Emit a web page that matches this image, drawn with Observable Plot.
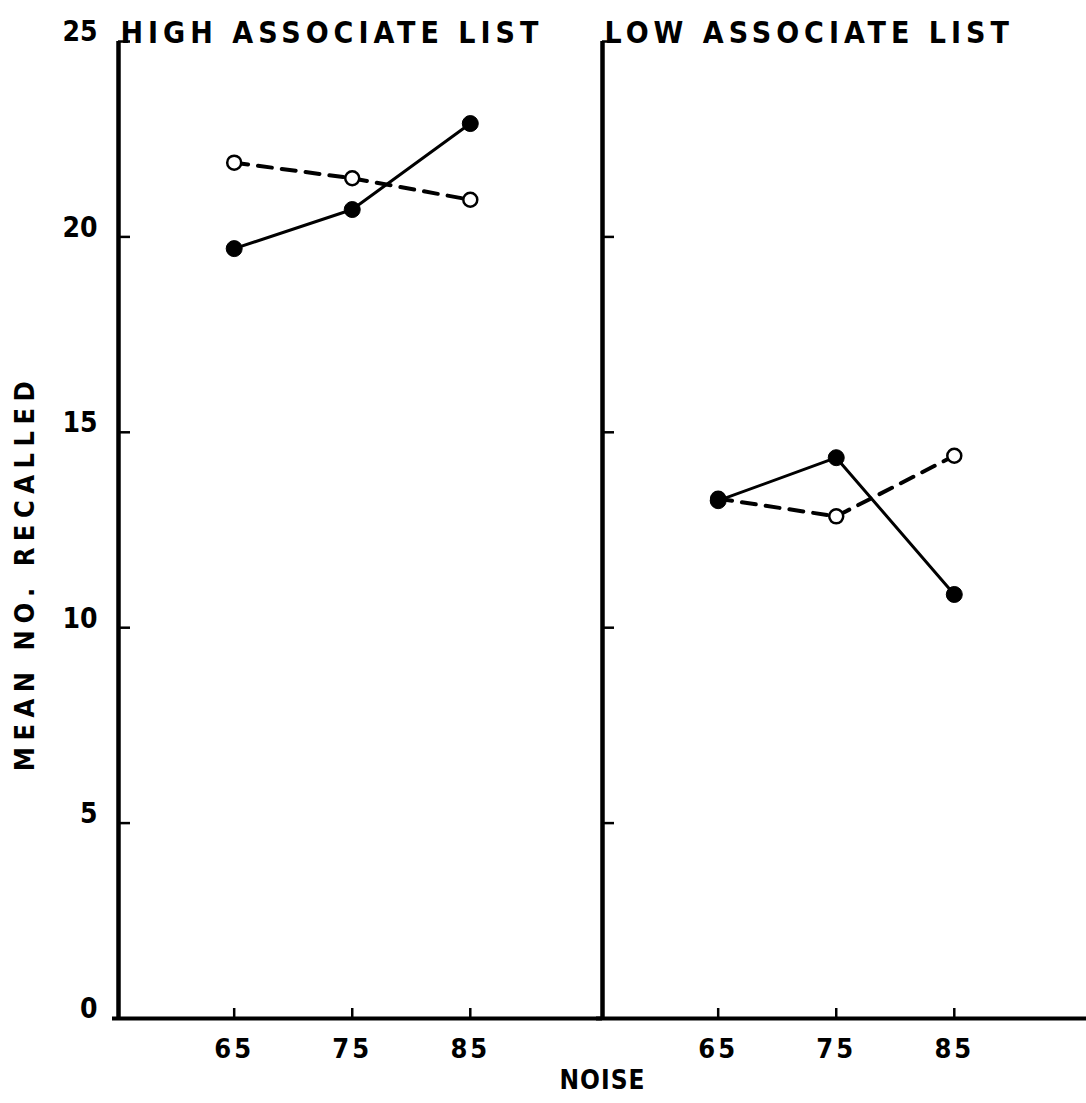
<!DOCTYPE html>
<html><head><meta charset="utf-8">
<script src="https://cdn.jsdelivr.net/npm/d3@7"></script>
<script src="https://cdn.jsdelivr.net/npm/@observablehq/plot@0.6"></script>
<style>body{margin:0;background:#fff}</style>
</head><body><div id="chart"></div>
<script>
const panels = ["HIGH ASSOCIATE LIST", "LOW ASSOCIATE LIST"];
const noiseLevels = [65, 75, 85];
const filledHigh = [19.7, 20.7, 22.9];
const openHigh = [21.9, 21.5, 20.95];
const filledLow = [13.25, 14.35, 10.85];
const openLow = [13.3, 12.85, 14.4];
const yTicks = [0, 5, 10, 15, 20, 25];
const yLabel = "MEAN NO. RECALLED";
const xLabel = "NOISE";

const rows = [];
[[panels[0], "filled", filledHigh], [panels[0], "open", openHigh],
 [panels[1], "filled", filledLow], [panels[1], "open", openLow]]
  .forEach(([p, s, vals]) => vals.forEach((v, i) => rows.push({panel: p, series: s, noise: noiseLevels[i], value: v})));

const xDomain = [55.2, 96.2];
const font = "'DejaVu Sans Condensed', 'DejaVu Sans', sans-serif";

const chart = Plot.plot({
  width: 1086, height: 1103,
  marginLeft: 118, marginRight: 0, marginTop: 41, marginBottom: 85,
  style: {fontFamily: font, fontWeight: "bold", fontSize: "26px", color: "#000", background: "#fff", overflow: "visible"},
  fx: {domain: panels, padding: 0, axis: null},
  x: {domain: xDomain},
  y: {domain: [0, 25]},
  marks: [
    Plot.axisY({ticks: yTicks, tickSize: 0, tickPadding: 21, label: null, fontSize: 28, dy: -9}),
    Plot.axisY({ticks: yTicks, tickSize: -12, tickPadding: 0, tickFormat: () => "", label: null, facetAnchor: null, strokeWidth: 2.5}),
    Plot.axisX({ticks: noiseLevels, tickSize: -10, tickPadding: 30, label: null, strokeWidth: 2.5, fontSize: 27}),
    Plot.ruleX([xDomain[0]], {strokeWidth: 4.5}),
    Plot.ruleY([0], {strokeWidth: 4, insetLeft: -6}),
    Plot.line(rows, {filter: d => d.series === "filled", fx: "panel", x: "noise", y: "value", stroke: "black", strokeWidth: 3}),
    Plot.line(rows, {filter: d => d.series === "open", fx: "panel", x: "noise", y: "value", stroke: "black", strokeWidth: 4, strokeDasharray: "14,10"}),
    Plot.dot(rows, {filter: d => d.series === "open", fx: "panel", x: "noise", y: "value", r: 7, fill: "white", stroke: "black", strokeWidth: 2.5}),
    Plot.dot(rows, {filter: d => d.series === "filled", fx: "panel", x: "noise", y: "value", r: 8, fill: "black", stroke: "black", strokeWidth: 1}),
    Plot.text(panels, {fx: d => d, text: d => d, frameAnchor: "top-left", textAnchor: "start", dx: 2, dy: 1, fontSize: 30, lineAnchor: "bottom"}),
    Plot.text([panels[0]], {fx: d => d, text: () => yLabel, frameAnchor: "left", textAnchor: "middle", dx: -93, dy: 43, rotate: -90, fontSize: 27}),
    Plot.text([panels[0]], {fx: d => d, text: () => xLabel, frameAnchor: "bottom-right", dy: 70, textAnchor: "middle", fontSize: 26})
  ]
});
document.getElementById("chart").appendChild(chart);
const svg = d3.select(chart);
svg.selectAll("g[aria-label='x-axis tick label'] text").style("letter-spacing", "3px");
svg.selectAll("g[aria-label='text'] text").each(function() {
  const t = d3.select(this).text();
  let ls = "5px";
  if (t === yLabel) ls = "6.5px";
  if (t === xLabel) ls = "1px";
  d3.select(this).style("letter-spacing", ls);
});
</script>
</body></html>
